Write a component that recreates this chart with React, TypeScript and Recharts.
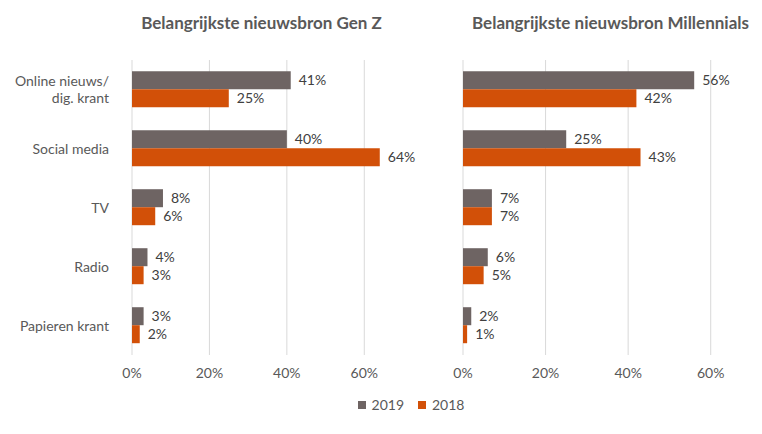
import { Bar, BarChart, CartesianGrid, LabelList, XAxis, YAxis } from "recharts";

const categories = ["Online nieuws/\ndig. krant", "Social media", "TV", "Radio", "Papieren krant"];
const genZ2019 = [41, 40, 8, 4, 3];
const genZ2018 = [25, 64, 6, 3, 2];
const mill2019 = [56, 25, 7, 6, 2];
const mill2018 = [42, 43, 7, 5, 1];
const xTicks = [0, 20, 40, 60];
const xMax = 70;

const GRAY = "#6e6463";
const ORANGE = "#d25008";
const TEXT = "#595959";
const FONT = "Lato, 'Open Sans', sans-serif";

const genZData = categories.map((name, i) => ({ name, y2019: genZ2019[i], y2018: genZ2018[i] }));
const millData = categories.map((name, i) => ({ name, y2019: mill2019[i], y2018: mill2018[i] }));

function CategoryTick({ x, y, payload }: { x?: number; y?: number; payload?: { value: string } }) {
  const lines = String(payload?.value ?? "").split("\n");
  const lineHeight = 17;
  const start = -((lines.length - 1) * lineHeight) / 2;
  return (
    <text x={(x ?? 0) - 15} y={y} textAnchor="end" fill={TEXT} fontSize={14} fontFamily={FONT}>
      {lines.map((line, i) => (
        <tspan key={i} x={(x ?? 0) - 15} dy={i === 0 ? start + 5 : lineHeight}>
          {line}
        </tspan>
      ))}
    </text>
  );
}

// only the labelled ticks get a gridline, not the end of the domain
const gridAtTicks = ({ offset }: { offset: { left: number; width: number } }) =>
  xTicks.map((t) => offset.left + (t / xMax) * offset.width);

function Panel({
  data,
  width,
  marginLeft,
  marginRight,
  showCategories,
}: {
  data: typeof genZData;
  width: number;
  marginLeft: number;
  marginRight: number;
  showCategories: boolean;
}) {
  const pct = (v: unknown) => `${v}%`;
  return (
    <BarChart
      width={width}
      height={390}
      data={data}
      layout="vertical"
      margin={{ top: 60, right: marginRight, left: marginLeft, bottom: 0 }}
      barCategoryGap="19%"
      barGap={0}
    >
      <CartesianGrid horizontal={false} stroke="#d9d9d9" verticalCoordinatesGenerator={gridAtTicks as any} />
      <XAxis
        type="number"
        domain={[0, xMax]}
        ticks={xTicks}
        tickFormatter={pct}
        axisLine={false}
        tickLine={false}
        tickSize={0}
        tickMargin={13}
        height={35}
        tick={{ fill: TEXT, fontSize: 14, fontFamily: FONT }}
      />
      <YAxis
        type="category"
        dataKey="name"
        axisLine={false}
        tickLine={false}
        width={showCategories ? 132 : 0}
        tick={showCategories ? <CategoryTick /> : false}
        hide={!showCategories}
      />
      <Bar dataKey="y2019" fill={GRAY} isAnimationActive={false}>
        <LabelList dataKey="y2019" position="right" offset={8} formatter={pct} fill="#404040" fontSize={14} fontFamily={FONT} />
      </Bar>
      <Bar dataKey="y2018" fill={ORANGE} isAnimationActive={false}>
        <LabelList dataKey="y2018" position="right" offset={8} formatter={pct} fill="#404040" fontSize={14} fontFamily={FONT} />
      </Bar>
    </BarChart>
  );
}

const titleStyle: React.CSSProperties = {
  position: "absolute",
  top: 12,
  fontFamily: FONT,
  fontWeight: 700,
  fontSize: 17,
  color: TEXT,
  textAlign: "center",
  whiteSpace: "nowrap",
};

export default function App() {
  return (
    <div style={{ position: "absolute", left: 0, top: 0, width: 762, height: 434, background: "#fff", overflow: "hidden" }}>
      <div style={{ ...titleStyle, left: 126, width: 271 }}>Belangrijkste nieuwsbron Gen Z</div>
      <div style={{ ...titleStyle, left: 466, width: 289 }}>Belangrijkste nieuwsbron Millennials</div>
      <div style={{ position: "absolute", left: 0, top: 0 }}>
        <Panel data={genZData} width={420} marginLeft={0} marginRight={17} showCategories />
      </div>
      <div style={{ position: "absolute", left: 420, top: 0 }}>
        <Panel data={millData} width={342} marginLeft={43} marginRight={10} showCategories={false} />
      </div>
      <div
        style={{
          position: "absolute",
          top: 396,
          left: 0,
          width: 762,
          display: "flex",
          justifyContent: "center",
          paddingLeft: 60,
          boxSizing: "border-box",
          gap: 14,
          fontFamily: FONT,
          fontSize: 14,
          color: TEXT,
        }}
      >
        {[
          { label: "2019", color: GRAY },
          { label: "2018", color: ORANGE },
        ].map((item) => (
          <span key={item.label} style={{ display: "flex", alignItems: "center", gap: 6 }}>
            <span style={{ width: 8, height: 8, background: item.color, display: "inline-block" }} />
            {item.label}
          </span>
        ))}
      </div>
    </div>
  );
}
